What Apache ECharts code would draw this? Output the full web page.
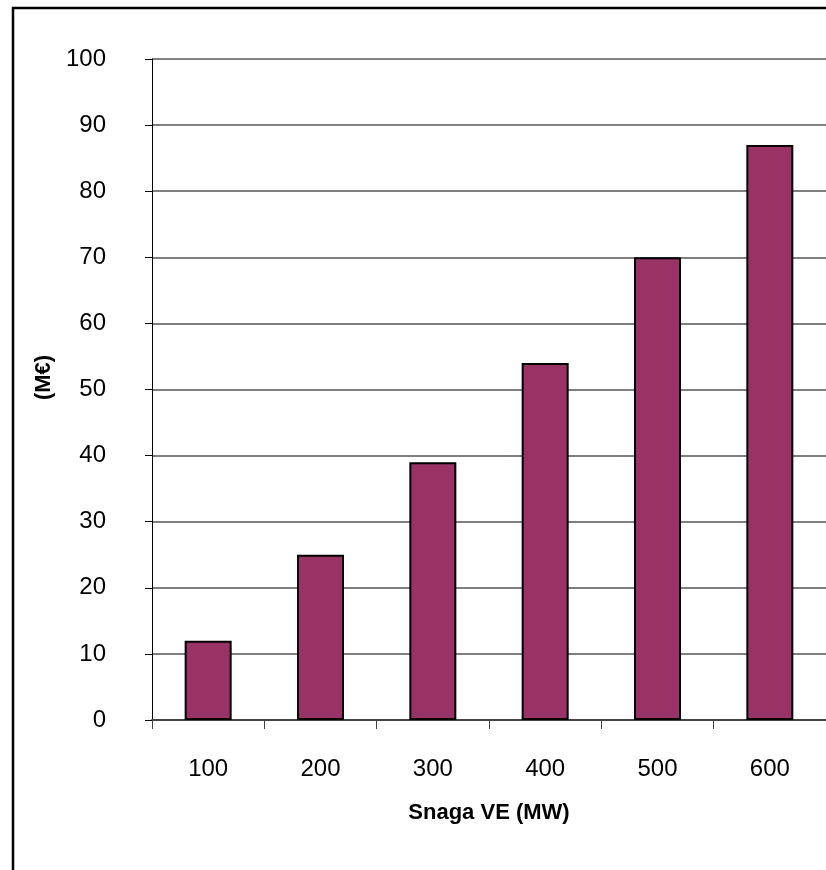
<!DOCTYPE html>
<html>
<head>
<meta charset="utf-8">
<script src="https://cdn.jsdelivr.net/npm/echarts@6/dist/echarts.min.js"></script>
<style>
  html, body { margin: 0; padding: 0; background: #ffffff; }
  #chart { width: 826px; height: 870px; }
</style>
</head>
<body>
<div id="chart"></div>
<script>
// Investment cost by wind farm capacity
const categories = ['100', '200', '300', '400', '500', '600'];
const costValues = [12, 25, 39, 54, 70, 87];
const yTicks = { min: 0, max: 100, interval: 10 };

const narrow = '"Liberation Sans Narrow", "Liberation Sans", Arial, sans-serif';
const chart = echarts.init(document.getElementById('chart'), null, { renderer: 'canvas' });

chart.setOption({
  backgroundColor: '#ffffff',
  animation: false,
  graphic: [{
    type: 'rect',
    shape: { x: 13, y: 8, width: 900, height: 900 },
    style: { fill: 'none', stroke: '#000000', lineWidth: 2.5 },
    z: 100
  }],
  grid: { left: 152, top: 59, width: 676, height: 661, containLabel: false },
  xAxis: {
    type: 'category',
    data: categories,
    name: 'Snaga VE (MW)',
    nameLocation: 'middle',
    nameGap: 82,
    nameTextStyle: { fontFamily: narrow, fontWeight: 'bold', fontSize: 22, color: '#000' },
    axisLine: { lineStyle: { color: '#444444', width: 2 } },
    axisTick: { show: true, alignWithLabel: false, length: 9, lineStyle: { color: '#444444', width: 1 } },
    axisLabel: { fontFamily: narrow, fontSize: 24, color: '#000', margin: 37 }
  },
  yAxis: {
    type: 'value',
    min: yTicks.min,
    max: yTicks.max,
    interval: yTicks.interval,
    name: '(M€)',
    nameLocation: 'middle',
    nameGap: 90,
    nameRotate: 90,
    nameTextStyle: { fontFamily: narrow, fontWeight: 'bold', fontSize: 22, color: '#000', padding: [0, 0, 0, 24] },
    axisLine: { show: true, lineStyle: { color: '#000000', width: 1 } },
    axisTick: { show: true, length: 7, lineStyle: { color: '#000000', width: 1 } },
    axisLabel: { fontFamily: narrow, fontSize: 24, color: '#000', margin: 46 },
    splitLine: { show: true, lineStyle: { color: '#7f7f7f', width: 2 } }
  },
  series: [{
    type: 'bar',
    data: costValues,
    barWidth: 47,
    itemStyle: { color: '#993366', borderColor: '#000000', borderWidth: 2 }
  }]
});
</script>
</body>
</html>
